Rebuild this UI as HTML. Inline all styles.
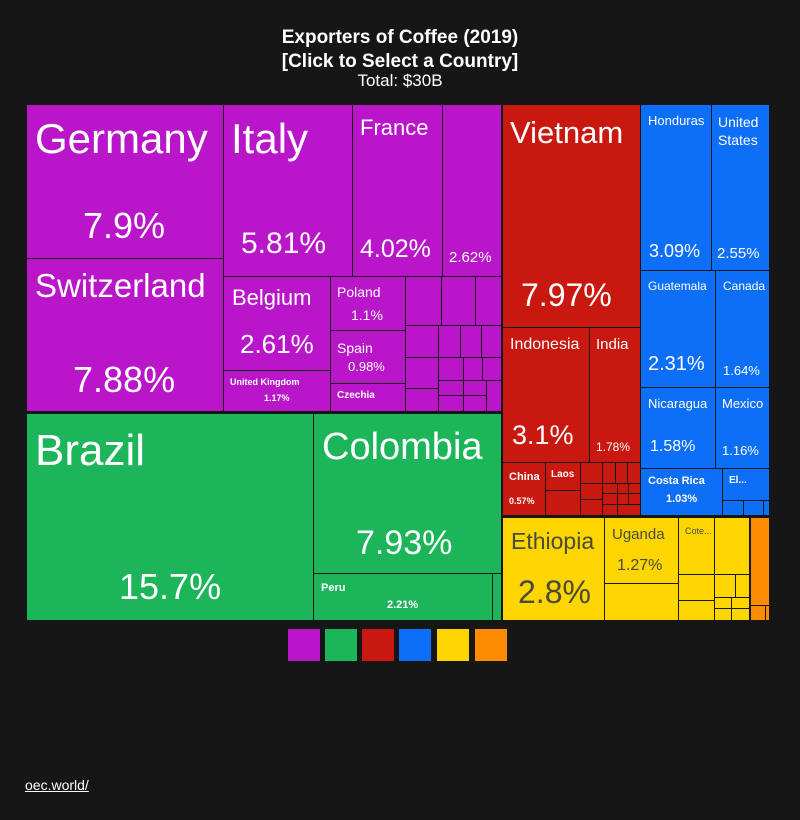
<!DOCTYPE html>
<html><head><meta charset="utf-8"><style>
body{margin:0;width:800px;height:820px;background:#161616;font-family:"Liberation Sans",sans-serif;position:relative;overflow:hidden}
.b{position:absolute;box-sizing:border-box;border:1px solid #161616;color:#fff;overflow:hidden}
.P{background:#b915c9}.G{background:#1db55a}.R{background:#c8180f}.U{background:#0d6ff7}.Y{background:#fdd600;color:#4a4a3a}.O{background:#fb8c00}
.t{position:absolute;white-space:nowrap}
.ttl{position:absolute;width:800px;text-align:center;color:#fff}
.lg{position:absolute;top:629px;width:32px;height:32px}
</style></head><body>
<div class="ttl" style="top:27px;font-size:19px;font-weight:bold">Exporters of Coffee (2019)</div>
<div class="ttl" style="top:51px;font-size:19px;font-weight:bold">[Click to Select a Country]</div>
<div class="ttl" style="top:71px;font-size:17px">Total: $30B</div>

<!-- purple -->
<div class="b P" style="left:26px;top:104px;width:198px;height:155px"><span class="t" style="left:8px;top:10px;font-size:42px">Germany</span><span class="t" style="left:56px;top:100px;font-size:36px">7.9%</span></div>
<div class="b P" style="left:26px;top:258px;width:198px;height:154px"><span class="t" style="left:8px;top:8px;font-size:33px">Switzerland</span><span class="t" style="left:46px;top:100px;font-size:36px">7.88%</span></div>
<div class="b P" style="left:223px;top:104px;width:130px;height:173px"><span class="t" style="left:7px;top:10px;font-size:42px">Italy</span><span class="t" style="left:17px;top:122px;font-size:30px">5.81%</span></div>
<div class="b P" style="left:352px;top:104px;width:91px;height:173px"><span class="t" style="left:7px;top:10px;font-size:22px">France</span><span class="t" style="left:7px;top:130px;font-size:25px">4.02%</span></div>
<div class="b P" style="left:442px;top:104px;width:60px;height:173px"><span class="t" style="left:6px;top:144px;font-size:15px">2.62%</span></div>
<div class="b P" style="left:223px;top:276px;width:108px;height:95px"><span class="t" style="left:8px;top:8px;font-size:22px">Belgium</span><span class="t" style="left:16px;top:52px;font-size:26px">2.61%</span></div>
<div class="b P" style="left:223px;top:370px;width:108px;height:42px"><span class="t" style="left:6px;top:6px;font-size:9px;font-weight:bold">United Kingdom</span><span class="t" style="left:40px;top:22px;font-size:9px;font-weight:bold">1.17%</span></div>
<div class="b P" style="left:330px;top:276px;width:76px;height:55px"><span class="t" style="left:6px;top:7px;font-size:14px">Poland</span><span class="t" style="left:20px;top:30px;font-size:14px">1.1%</span></div>
<div class="b P" style="left:330px;top:330px;width:76px;height:54px"><span class="t" style="left:6px;top:9px;font-size:14px">Spain</span><span class="t" style="left:17px;top:28px;font-size:13px">0.98%</span></div>
<div class="b P" style="left:330px;top:383px;width:76px;height:29px"><span class="t" style="left:6px;top:6px;font-size:10px;font-weight:bold">Czechia</span></div>
<div class="b P" style="left:405px;top:276px;width:37px;height:50px"></div>
<div class="b P" style="left:441px;top:276px;width:35px;height:50px"></div>
<div class="b P" style="left:475px;top:276px;width:27px;height:50px"></div>
<div class="b P" style="left:405px;top:325px;width:34px;height:33px"></div>
<div class="b P" style="left:438px;top:325px;width:23px;height:33px"></div>
<div class="b P" style="left:460px;top:325px;width:22px;height:33px"></div>
<div class="b P" style="left:481px;top:325px;width:21px;height:33px"></div>
<div class="b P" style="left:405px;top:357px;width:34px;height:32px"></div>
<div class="b P" style="left:405px;top:388px;width:34px;height:24px"></div>
<div class="b P" style="left:438px;top:357px;width:26px;height:24px"></div>
<div class="b P" style="left:463px;top:357px;width:20px;height:24px"></div>
<div class="b P" style="left:482px;top:357px;width:20px;height:24px"></div>
<div class="b P" style="left:438px;top:380px;width:26px;height:16px"></div>
<div class="b P" style="left:438px;top:395px;width:26px;height:17px"></div>
<div class="b P" style="left:463px;top:380px;width:24px;height:16px"></div>
<div class="b P" style="left:463px;top:395px;width:24px;height:17px"></div>
<div class="b P" style="left:486px;top:380px;width:16px;height:32px"></div>

<!-- green -->
<div class="b G" style="left:26px;top:413px;width:288px;height:208px"><span class="t" style="left:8px;top:12px;font-size:44px">Brazil</span><span class="t" style="left:92px;top:152px;font-size:36px">15.7%</span></div>
<div class="b G" style="left:313px;top:413px;width:189px;height:161px"><span class="t" style="left:8px;top:12px;font-size:38px">Colombia</span><span class="t" style="left:42px;top:110px;font-size:34px">7.93%</span></div>
<div class="b G" style="left:313px;top:573px;width:180px;height:48px"><span class="t" style="left:7px;top:8px;font-size:11px;font-weight:bold">Peru</span><span class="t" style="left:73px;top:25px;font-size:11px;font-weight:bold">2.21%</span></div>
<div class="b G" style="left:492px;top:573px;width:10px;height:48px"></div>

<!-- red -->
<div class="b R" style="left:502px;top:104px;width:139px;height:224px"><span class="t" style="left:7px;top:10px;font-size:31px">Vietnam</span><span class="t" style="left:18px;top:172px;font-size:32px">7.97%</span></div>
<div class="b R" style="left:502px;top:327px;width:88px;height:136px"><span class="t" style="left:7px;top:8px;font-size:16px">Indonesia</span><span class="t" style="left:9px;top:92px;font-size:27px">3.1%</span></div>
<div class="b R" style="left:589px;top:327px;width:52px;height:136px"><span class="t" style="left:6px;top:8px;font-size:15px">India</span><span class="t" style="left:6px;top:112px;font-size:12px">1.78%</span></div>
<div class="b R" style="left:502px;top:462px;width:44px;height:54px"><span class="t" style="left:6px;top:8px;font-size:11px;font-weight:bold">China</span><span class="t" style="left:6px;top:33px;font-size:9px;font-weight:bold">0.57%</span></div>
<div class="b R" style="left:545px;top:462px;width:36px;height:29px"><span class="t" style="left:5px;top:6px;font-size:10px;font-weight:bold">Laos</span></div>
<div class="b R" style="left:545px;top:490px;width:36px;height:26px"></div>
<div class="b R" style="left:580px;top:462px;width:23px;height:22px"></div>
<div class="b R" style="left:580px;top:483px;width:23px;height:17px"></div>
<div class="b R" style="left:580px;top:499px;width:23px;height:17px"></div>
<div class="b R" style="left:602px;top:462px;width:14px;height:22px"></div>
<div class="b R" style="left:615px;top:462px;width:13px;height:22px"></div>
<div class="b R" style="left:627px;top:462px;width:14px;height:22px"></div>
<div class="b R" style="left:602px;top:483px;width:16px;height:11px"></div>
<div class="b R" style="left:617px;top:483px;width:12px;height:11px"></div>
<div class="b R" style="left:628px;top:483px;width:13px;height:11px"></div>
<div class="b R" style="left:602px;top:493px;width:16px;height:12px"></div>
<div class="b R" style="left:602px;top:504px;width:16px;height:12px"></div>
<div class="b R" style="left:617px;top:493px;width:12px;height:12px"></div>
<div class="b R" style="left:628px;top:493px;width:13px;height:12px"></div>
<div class="b R" style="left:617px;top:504px;width:24px;height:12px"></div>

<!-- blue -->
<div class="b U" style="left:640px;top:104px;width:72px;height:167px"><span class="t" style="left:7px;top:8px;font-size:13px">Honduras</span><span class="t" style="left:8px;top:136px;font-size:18px">3.09%</span></div>
<div class="b U" style="left:711px;top:104px;width:59px;height:167px"><span class="t" style="left:6px;top:8px;font-size:14px;line-height:18px">United<br>States</span><span class="t" style="left:5px;top:140px;font-size:15px">2.55%</span></div>
<div class="b U" style="left:640px;top:270px;width:76px;height:118px"><span class="t" style="left:7px;top:8px;font-size:12px">Guatemala</span><span class="t" style="left:7px;top:82px;font-size:20px">2.31%</span></div>
<div class="b U" style="left:715px;top:270px;width:55px;height:118px"><span class="t" style="left:7px;top:8px;font-size:12px">Canada</span><span class="t" style="left:7px;top:92px;font-size:13px">1.64%</span></div>
<div class="b U" style="left:640px;top:387px;width:76px;height:82px"><span class="t" style="left:7px;top:8px;font-size:13px">Nicaragua</span><span class="t" style="left:9px;top:50px;font-size:16px">1.58%</span></div>
<div class="b U" style="left:715px;top:387px;width:55px;height:82px"><span class="t" style="left:6px;top:8px;font-size:13px">Mexico</span><span class="t" style="left:6px;top:55px;font-size:13px">1.16%</span></div>
<div class="b U" style="left:640px;top:468px;width:83px;height:48px"><span class="t" style="left:7px;top:6px;font-size:11px;font-weight:bold">Costa Rica</span><span class="t" style="left:25px;top:24px;font-size:11px;font-weight:bold">1.03%</span></div>
<div class="b U" style="left:722px;top:468px;width:48px;height:33px"><span class="t" style="left:6px;top:6px;font-size:10px;font-weight:bold">El...</span></div>
<div class="b U" style="left:722px;top:500px;width:22px;height:16px"></div>
<div class="b U" style="left:743px;top:500px;width:21px;height:16px"></div>
<div class="b U" style="left:763px;top:500px;width:7px;height:16px"></div>

<!-- yellow -->
<div class="b Y" style="left:502px;top:517px;width:103px;height:104px"><span class="t" style="left:8px;top:10px;font-size:23px">Ethiopia</span><span class="t" style="left:15px;top:56px;font-size:32px">2.8%</span></div>
<div class="b Y" style="left:604px;top:517px;width:75px;height:67px"><span class="t" style="left:7px;top:8px;font-size:15px">Uganda</span><span class="t" style="left:12px;top:39px;font-size:16px">1.27%</span></div>
<div class="b Y" style="left:604px;top:583px;width:75px;height:38px"></div>
<div class="b Y" style="left:678px;top:517px;width:37px;height:58px"><span class="t" style="left:6px;top:8px;font-size:9px">Cote...</span></div>
<div class="b Y" style="left:678px;top:574px;width:37px;height:27px"></div>
<div class="b Y" style="left:678px;top:600px;width:37px;height:21px"></div>
<div class="b Y" style="left:714px;top:517px;width:36px;height:58px"></div>
<div class="b Y" style="left:714px;top:574px;width:22px;height:24px"></div>
<div class="b Y" style="left:735px;top:574px;width:15px;height:24px"></div>
<div class="b Y" style="left:714px;top:597px;width:18px;height:12px"></div>
<div class="b Y" style="left:714px;top:608px;width:18px;height:13px"></div>
<div class="b Y" style="left:731px;top:597px;width:19px;height:12px"></div>
<div class="b Y" style="left:731px;top:608px;width:19px;height:13px"></div>
<div class="b O" style="left:750px;top:517px;width:20px;height:89px"></div>
<div class="b O" style="left:750px;top:605px;width:16px;height:16px"></div>
<div class="b O" style="left:765px;top:605px;width:5px;height:16px"></div>

<!-- legend -->
<div class="lg P" style="left:288px"></div>
<div class="lg G" style="left:325px"></div>
<div class="lg R" style="left:362px"></div>
<div class="lg U" style="left:399px"></div>
<div class="lg Y" style="left:437px"></div>
<div class="lg O" style="left:475px"></div>

<div style="position:absolute;left:25px;top:777px;color:#fff;font-size:14px;text-decoration:underline">oec.world/</div>
</body></html>
